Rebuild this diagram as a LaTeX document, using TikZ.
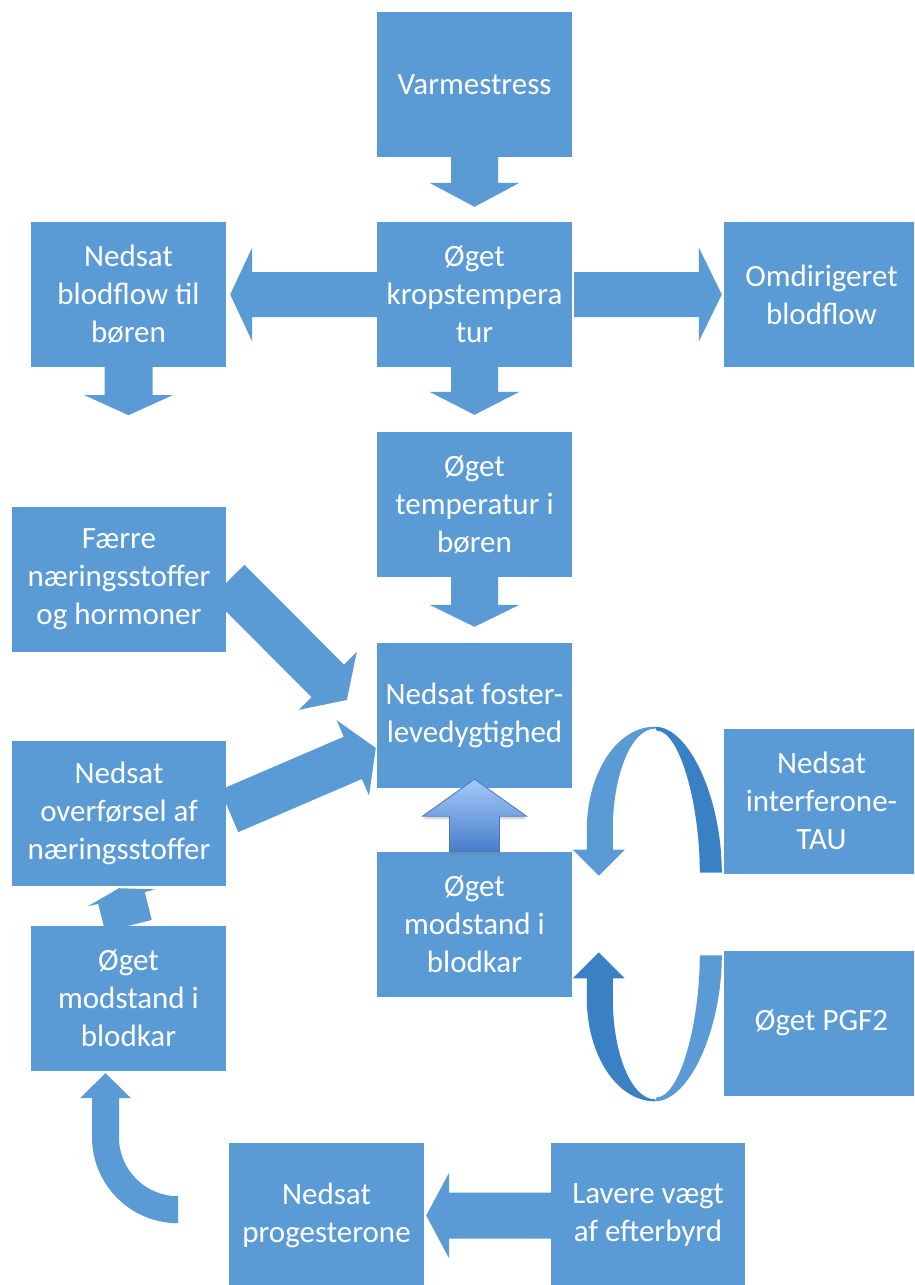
\documentclass[tikz,border=0pt]{standalone}
\usepackage{fontspec}
\setmainfont{Carlito}
\usetikzlibrary{calc,shadows}
\definecolor{boxblue}{HTML}{5B9BD5}
\definecolor{darkband}{HTML}{3A80C5}
\definecolor{gradtop}{HTML}{A6C9F8}
\definecolor{gradbot}{HTML}{477DCB}
\definecolor{gradline}{HTML}{4A78BE}
\tikzset{
  box/.style={fill=boxblue, text=white, minimum width=195pt, minimum height=145pt,
    inner sep=0pt, align=center, font=\fontsize{31}{38}\selectfont},
  widebox/.style={box, minimum width=214pt},
  blk/.style={fill=boxblue},
  gradarrow/.style={top color=gradtop, bottom color=gradbot, draw=gradline, line width=0.8pt,
    drop shadow={opacity=0.3, shadow xshift=0pt, shadow yshift=-3pt}},
}
% #1 style, #2 tail coordinate, #3 tip coordinate, #4 shaft half width, #5 head half width, #6 head length
\newcommand\barr[6][blk]{%
  \coordinate (tmph) at ($(#3)!#6!(#2)$);
  \path[#1] ($(#2)!#4!90:(#3)$) -- ($(tmph)!#4!90:(#3)$) -- ($(tmph)!#5!90:(#3)$) -- (#3)
    -- ($(tmph)!#5!-90:(#3)$) -- ($(tmph)!#4!-90:(#3)$) -- ($(#2)!#4!-90:(#3)$) -- cycle;}
\begin{document}
\begin{tikzpicture}[x=1pt,y=-1pt]
\useasboundingbox (0,0) rectangle (914,1285);
\fill[white] (0,0) rectangle (914,1285);
\clip (0,0) rectangle (914,1285);

% boxes
\node[box] (v) at (474.5,84.5) {Varmestress};
\node[box] (k) at (474.5,294.5) {Øget\\kropstempera\\tur};
\node[box] (nb) at (128.5,294.5) {Nedsat\\blodflow til\\børen};
\node[box] (om) at (821.5,294.5) {Omdirigeret\\blodflow};
\node[box] (t) at (474.5,504.5) {Øget\\temperatur i\\børen};
\node[widebox] (fa) at (119,579.5) {Færre\\næringsstoffer\\og hormoner};
\node[box] (nf) at (474.5,715.5) {Nedsat foster-\\levedygtighed};
\node[widebox] (no) at (119,813.5) {Nedsat\\overførsel af\\næringsstoffer};
\node[box] (ni) at (821.5,801) {Nedsat\\interferone-\\TAU};
\node[box] (mc) at (474.5,924.5) {Øget\\modstand i\\blodkar};
\node[box] (pg) at (821.5,1023) {Øget PGF2};
\node[box] (ml) at (128.5,998.5) {Øget\\modstand i\\blodkar};
\node[box] (np) at (326.5,1215.5) {Nedsat\\progesterone};
\node[box, minimum width=194pt] (lv) at (648,1215.5) {Lavere vægt\\af efterbyrd};

% straight block arrows
\coordinate (a1s) at (v.south); \coordinate (a1e) at ($(k.north)+(0,-15)$);
\barr{a1s}{a1e}{23.5pt}{45pt}{24pt}
\coordinate (a2s) at (k.south); \coordinate (a2e) at ($(t.north)+(0,-17)$);
\barr{a2s}{a2e}{23.5pt}{45pt}{23pt}
\coordinate (a3s) at (k.west); \coordinate (a3e) at ($(nb.east)+(4,0)$);
\barr{a3s}{a3e}{22.5pt}{47pt}{22pt}
\coordinate (a4s) at ($(k.east)+(2,0)$); \coordinate (a4e) at ($(om.west)+(-2,0)$);
\barr{a4s}{a4e}{22.5pt}{47pt}{23pt}
\coordinate (a5s) at (nb.south); \coordinate (a5e) at ($(nb.south)+(0,48)$);
\barr{a5s}{a5e}{24pt}{44pt}{20pt}
\coordinate (a6s) at (t.south); \coordinate (a6e) at ($(nf.north)+(0,-16)$);
\barr{a6s}{a6e}{23.5pt}{45pt}{22pt}
\coordinate (a7s) at ($(fa.east)+(2,1.5)$); \coordinate (a7e) at ($(nf.west)+(-30,-15.5)$);
\barr{a7s}{a7e}{23pt}{41pt}{27pt}
\coordinate (a8s) at ($(no.east)+(3,-2.5)$); \coordinate (a8e) at ($(nf.west)+(-1,32.5)$);
\barr{a8s}{a8e}{23pt}{41pt}{25pt}
\coordinate (a9s) at (mc.north); \coordinate (a9e) at ($(nf.south)+(0,-9)$);
\barr[gradarrow]{a9s}{a9e}{25pt}{52pt}{37pt}
\coordinate (a10s) at (ml.north); \coordinate (a10e) at ($(no.south)+(0,2)$);
\barr{a10s}{a10e}{24pt}{35pt}{10pt}
\coordinate (a11s) at (lv.west); \coordinate (a11e) at ($(np.east)+(2,0)$);
\barr{a11s}{a11e}{23pt}{43pt}{23pt}

% bent arrow up to the left "Øget modstand i blodkar"
\begin{scope}[shift={(ml.south)}]
\fill[boxblue] (-9.5,27) -- (-9.5,66) .. controls (-9.5,98.6) and (16.9,125) .. (49.5,125)
  -- (49.5,152) .. controls (2,152) and (-36.5,113.5) .. (-36.5,66) -- (-36.5,27)
  -- (-48.5,27) -- (-23,2) -- (2.5,27) -- cycle;
\end{scope}

% circular arrow from "Nedsat interferone-TAU"
\begin{scope}[shift={(ni.south west)}]
\fill[darkband] (-69,-147) .. controls (-34,-147) and (-2,-74) .. (-2,-1) -- (-24,-1)
  .. controls (-24,-69) and (-44,-143) .. (-67,-143) -- cycle;
\fill[boxblue] (-69,-147) .. controls (-106.5,-147) and (-137,-101) .. (-137,-44) -- (-137,-24)
  -- (-151,-24) -- (-125,2) -- (-99,-24) -- (-111,-24) -- (-111,-44)
  .. controls (-111,-100) and (-92,-145) .. (-69,-145) -- cycle;
\end{scope}

% circular arrow from "Øget PGF2"
\begin{scope}[shift={($(pg.north west)+(0,4)$)}, yscale=-1]
\fill[boxblue] (-69,-147) .. controls (-34,-147) and (-2,-74) .. (-2,-1) -- (-24,-1)
  .. controls (-24,-69) and (-44,-143) .. (-67,-143) -- cycle;
\fill[darkband] (-69,-147) .. controls (-106.5,-147) and (-137,-101) .. (-137,-44) -- (-137,-24)
  -- (-151,-24) -- (-125,2) -- (-99,-24) -- (-111,-24) -- (-111,-44)
  .. controls (-111,-100) and (-92,-145) .. (-69,-145) -- cycle;
\end{scope}
\end{tikzpicture}
\end{document}
